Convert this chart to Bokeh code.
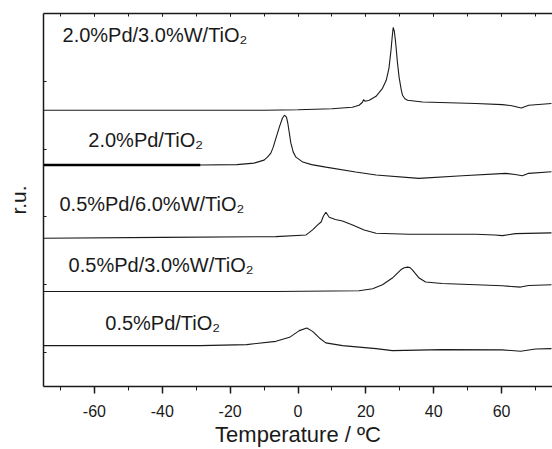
from bokeh.plotting import figure
from bokeh.models import Range1d, LinearAxis, FixedTicker, SingleIntervalTicker
from bokeh.core.properties import value
from bokeh.embed import file_html
from bokeh.resources import INLINE

# Temperature (ºC) and signal (r.u.) for each sample
t_a = [-75, -40, -10, 0, 10, 16, 18, 19.0, 19.3, 19.8, 21, 23, 24.9, 26.0, 26.8, 27.4, 27.8, 28.05,
       28.4, 28.8, 29.3, 29.8, 30.4, 30.8, 31.5, 32.3, 36.7, 52.4, 60.2, 63, 65.8, 68, 74.7]
y_a = [4.074, 4.074, 4.074, 4.081, 4.096, 4.118, 4.147, 4.191, 4.228, 4.206, 4.221, 4.279, 4.397,
       4.515, 4.691, 4.956, 5.176, 5.294, 5.235, 5.059, 4.779, 4.559, 4.382, 4.294, 4.243, 4.221,
       4.196, 4.172, 4.157, 4.140, 4.107, 4.147, 4.172]

t_b = [-75, -28.8, -18, -13, -10, -9, -8, -7.3, -6.5, -5.5, -4.6, -4.0, -3.4, -3.0, -2.1, -1.4, -0.6,
       1.4, 4, 8.2, 17, 23, 35.6, 48.4, 61.2, 64, 66.1, 68, 74.7]
y_b = [3.265, 3.265, 3.272, 3.294, 3.338, 3.382, 3.441, 3.529, 3.662, 3.824, 3.956, 4.0, 3.971,
       3.882, 3.588, 3.456, 3.382, 3.309, 3.272, 3.235, 3.162, 3.118, 3.069, 3.107, 3.143, 3.125,
       3.107, 3.143, 3.166]

t_c = [-75, -40, -6.5, 2.4, 4.3, 5.8, 6.8, 7.5, 8.2, 9.2, 11, 13.1, 16.1, 19.5, 23, 32.7, 52.4,
       58, 60.2, 64.1, 74.7]
y_c = [2.187, 2.199, 2.210, 2.235, 2.309, 2.382, 2.426, 2.515, 2.569, 2.496, 2.463, 2.441, 2.382,
       2.309, 2.260, 2.246, 2.246, 2.235, 2.225, 2.254, 2.265]

t_d = [-75, -6.5, 18, 22, 24.9, 27.8, 30.3, 31.3, 32.3, 33.0, 33.7, 35.7, 37.6, 42.5, 52.4, 60.2,
       65.6, 68, 74.7]
y_d = [1.401, 1.401, 1.412, 1.441, 1.500, 1.599, 1.721, 1.750, 1.760, 1.754, 1.721, 1.599, 1.540,
       1.519, 1.500, 1.485, 1.466, 1.490, 1.500]

t_e = [-75, -28.8, -15.1, -6.5, -2.5, 0.4, 2.6, 4.3, 6.3, 8.2, 13.1, 23, 27.8, 42.5, 60.2, 65.6,
       70, 74.7]
y_e = [0.603, 0.603, 0.618, 0.666, 0.725, 0.824, 0.863, 0.813, 0.716, 0.643, 0.603, 0.559, 0.529,
       0.544, 0.540, 0.519, 0.554, 0.559]

# Sample labels and their anchor (temperature, r.u.)
labels = ["2.0%Pd/3.0%W/TiO\u2082", "2.0%Pd/TiO\u2082", "0.5%Pd/6.0%W/TiO\u2082",
          "0.5%Pd/3.0%W/TiO\u2082", "0.5%Pd/TiO\u2082"]
label_x = [-69.4, -61.8, -70.3, -67.6, -56.8]
label_y = [5.185, 3.640, 2.685, 1.788, 0.934]

x_ticks_major = [-60, -40, -20, 0, 20, 40, 60]
x_tick_labels = ["-60", "-40", "-20", "0", "20", "40", "60"]
y_ticks = [0.5, 1.5, 2.5, 3.5, 4.5]

FONT = "Liberation Sans"
INK = "#1a1a1a"

p = figure(width=552, height=449, output_backend="svg", toolbar_location=None,
           x_range=Range1d(-75, 75), y_range=Range1d(0, 5.5),
           min_border_left=43, min_border_right=0, min_border_top=13, min_border_bottom=62,
           x_axis_location=None, y_axis_location=None)
p.outline_line_color = None
p.xgrid.visible = False
p.ygrid.visible = False
p.background_fill_color = "white"
p.border_fill_color = "white"

# bottom axis
xb = LinearAxis(ticker=SingleIntervalTicker(interval=20, num_minor_ticks=2),
                axis_label="Temperature / \u00baC")
xb.major_label_overrides = {t: s for t, s in zip(x_ticks_major, x_tick_labels)}
xb.major_tick_out = 7
xb.major_tick_in = 0
xb.minor_tick_out = 4
xb.minor_tick_in = 0
xb.major_label_standoff = 11
xb.major_label_text_font = FONT
xb.major_label_text_font_size = "16px"
xb.major_label_text_color = INK
xb.axis_label_text_font = FONT
xb.axis_label_text_font_size = "22px"
xb.axis_label_text_font_style = "normal"
xb.axis_label_text_color = INK
xb.axis_label_standoff = 2
xb.axis_line_width = 1.5
xb.axis_line_color = INK
xb.major_tick_line_width = 1.5
xb.major_tick_line_color = INK
xb.minor_tick_line_color = INK
p.add_layout(xb, "below")

# top axis (frame line with inward ticks)
xt = LinearAxis(ticker=SingleIntervalTicker(interval=20, num_minor_ticks=2))
xt.major_label_overrides = {t: "" for t in x_ticks_major}
xt.major_tick_out = 0
xt.major_tick_in = 3
xt.minor_tick_out = 0
xt.minor_tick_in = 3
xt.major_label_standoff = 0
xt.axis_line_width = 1.5
xt.axis_line_color = INK
xt.major_tick_line_color = INK
xt.minor_tick_line_color = INK
p.add_layout(xt, "above")

# left axis
yl = LinearAxis(ticker=FixedTicker(ticks=y_ticks), axis_label="r.u.")
yl.major_label_overrides = {t: "" for t in y_ticks}
yl.major_tick_out = 0
yl.major_tick_in = 3
yl.minor_tick_out = 0
yl.minor_tick_in = 0
yl.major_label_standoff = 0
yl.axis_label_text_font = FONT
yl.axis_label_text_font_size = "21px"
yl.axis_label_text_font_style = "normal"
yl.axis_label_text_color = INK
yl.axis_label_standoff = 14
yl.axis_line_width = 1.5
yl.axis_line_color = INK
yl.major_tick_line_color = INK
p.add_layout(yl, "left")

for t, y in [(t_a, y_a), (t_b, y_b), (t_c, y_c), (t_d, y_d), (t_e, y_e)]:
    p.line(t, y, line_color=INK, line_width=1.1)

# the heavier start of the 2.0%Pd/TiO2 trace
p.line(t_b[:2], y_b[:2], line_color="black", line_width=2.4)

p.text(x=label_x, y=label_y, text=labels, text_font=value(FONT), text_font_size="20px",
       text_color=INK, text_align="left", text_baseline="alphabetic")

open("out.html", "w").write(file_html(p, INLINE))
